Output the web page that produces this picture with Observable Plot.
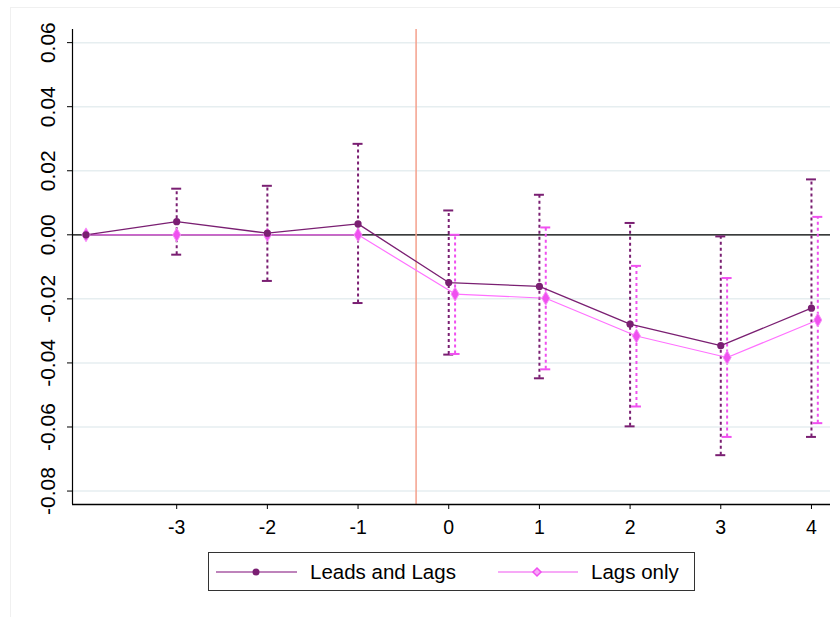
<!DOCTYPE html>
<html>
<head>
<meta charset="utf-8">
<script src="https://cdn.jsdelivr.net/npm/d3@7"></script>
<script src="https://cdn.jsdelivr.net/npm/@observablehq/plot@0.6"></script>
<style>
  html, body { margin: 0; padding: 0; background: #fff; }
  body { width: 840px; height: 617px; position: relative; overflow: hidden; font-family: "Liberation Sans", Arial, Helvetica, sans-serif; }
  #panel { position: absolute; left: 10px; top: 7px; right: -2px; bottom: -2px; border: 1px solid #f0f0f0; }
  #chart { position: absolute; left: 0; top: 0; }
  #legend { position: absolute; left: 208px; top: 552px; width: 485px; height: 37px; border: 1.5px solid #333; box-sizing: content-box; }
  .item { position: absolute; top: 0; height: 37px; display: flex; align-items: center; font-size: 20.5px; color: #000; }
  .item svg { margin-right: 13px; }
</style>
</head>
<body>
<div id="panel"></div>
<div id="chart"></div>
<div id="legend">
  <div class="item" style="left:7px">
    <svg width="81" height="12"><line x1="0" x2="81" y1="6" y2="6" stroke="#a85aa4" stroke-width="1.5"/><circle cx="40" cy="6" r="3.5" fill="#7a1f72"/></svg>Leads and Lags
  </div>
  <div class="item" style="left:289px">
    <svg width="80" height="12"><line x1="0" x2="80" y1="6" y2="6" stroke="#f58cf5" stroke-width="1.5"/><path d="M39,2 L43,6 L39,10 L35,6 Z" fill="#f8a8f8" stroke="#f050f0" stroke-width="1.5"/></svg>Lags only
  </div>
</div>
<script>
// ---- data ----
const periods = [-4, -3, -2, -1, 0, 1, 2, 3, 4];
const leadsLagsCoef  = [0, 0.0041, 0.0005, 0.0034, -0.0149, -0.0161, -0.0279, -0.0346, -0.0229];
const leadsLagsUpper = [null, 0.0144, 0.0153, 0.0284, 0.0076, 0.0125, 0.0037, -0.0005, 0.0173];
const leadsLagsLower = [null, -0.0062, -0.0144, -0.0213, -0.0374, -0.0448, -0.0598, -0.0688, -0.0631];
const lagsOnlyCoef  = [0, 0, 0, 0, -0.0185, -0.0198, -0.0316, -0.0383, -0.0266];
const lagsOnlyUpper = [null, null, null, null, 0.0000, 0.0023, -0.0097, -0.0135, 0.0056];
const lagsOnlyLower = [null, null, null, null, -0.0372, -0.0420, -0.0536, -0.0631, -0.0588];
const lagsOnlyOffset = 0.07;
const treatmentLine = -0.36;
const yTicks = [-0.08, -0.06, -0.04, -0.02, 0, 0.02, 0.04, 0.06];
const yTickLabels = ["-0.08", "-0.06", "-0.04", "-0.02", "0.00", "0.02", "0.04", "0.06"];
const xTicks = [-3, -2, -1, 0, 1, 2, 3, 4];
const xTickLabels = ["-3", "-2", "-1", "0", "1", "2", "3", "4"];
const xDomain = [-4.149, 4.21];
const yDomain = [-0.0842, 0.0641];

const purple = "#7a1f72";
const pink = "#f050f0";

const ll = periods.map((p, i) => ({x: p, y: leadsLagsCoef[i], hi: leadsLagsUpper[i], lo: leadsLagsLower[i]}));
const lo = periods.map((p, i) => ({x: p + (lagsOnlyUpper[i] == null ? 0 : lagsOnlyOffset), y: lagsOnlyCoef[i], hi: lagsOnlyUpper[i], lo: lagsOnlyLower[i]}));
const llCI = ll.filter(d => d.hi != null);
const loCI = lo.filter(d => d.hi != null);
const capHalf = 0.055;
const caps = (arr) => arr.flatMap(d => [{x: d.x, v: d.hi}, {x: d.x, v: d.lo}]);
const yLab = yTicks.map((v, i) => ({v, t: yTickLabels[i]}));
const xLab = xTicks.map((v, i) => ({v, t: xTickLabels[i]}));

const chart = Plot.plot({
  width: 840,
  height: 545,
  marginLeft: 72,
  marginRight: 10,
  marginTop: 29,
  marginBottom: 41,
  x: {domain: xDomain},
  y: {domain: yDomain},
  style: {fontFamily: '"Liberation Sans", Arial, Helvetica, sans-serif', background: "transparent", overflow: "visible"},
  marks: [
    Plot.gridY(yTicks, {stroke: "#e6eef0", strokeOpacity: 1, strokeWidth: 1.5}),
    Plot.ruleY([0], {stroke: "#000", strokeWidth: 1.2}),
    Plot.ruleX([treatmentLine], {stroke: "#f4a08c", strokeWidth: 1.5}),
    Plot.ruleX([xDomain[0]], {stroke: "#000", strokeWidth: 1.2}),
    Plot.ruleY([yDomain[0]], {stroke: "#000", strokeWidth: 1.5}),
    Plot.axisY({ticks: yTicks, tickFormat: () => "", tickSize: 5, label: null, stroke: "#000"}),
    Plot.axisX({ticks: xTicks, tickFormat: () => "", tickSize: 5, label: null, stroke: "#000"}),
    Plot.text(yLab, {x: () => xDomain[0], y: "v", text: "t", rotate: -90, dx: -24, fontSize: 21, fill: "#000"}),
    Plot.text(xLab, {x: "v", y: () => yDomain[0], text: "t", dy: 23, fontSize: 19.5, fill: "#000"}),
    // error bars
    Plot.ruleX(llCI, {x: "x", y1: "lo", y2: "hi", stroke: purple, strokeWidth: 2, strokeDasharray: "3,3"}),
    Plot.ruleY(caps(llCI), {y: "v", x1: d => d.x - capHalf, x2: d => d.x + capHalf, stroke: purple, strokeWidth: 2}),
    Plot.ruleX(loCI, {x: "x", y1: "lo", y2: "hi", stroke: pink, strokeWidth: 2, strokeDasharray: "3,3"}),
    Plot.ruleY(caps(loCI), {y: "v", x1: d => d.x - capHalf, x2: d => d.x + capHalf, stroke: pink, strokeWidth: 2}),
    // lines
    Plot.line(lo, {x: "x", y: "y", stroke: "#ff70ff", strokeWidth: 1.2}),
    Plot.line(ll, {x: "x", y: "y", stroke: purple, strokeWidth: 1.3}),
    Plot.dot(lo, {x: "x", y: "y", symbol: "diamond", r: 4.2, fill: pink, stroke: "#f890f8", strokeWidth: 1}),
    Plot.dot(ll, {x: "x", y: "y", r: 3.6, fill: purple})
  ]
});
document.getElementById("chart").appendChild(chart);
</script>
</body>
</html>
